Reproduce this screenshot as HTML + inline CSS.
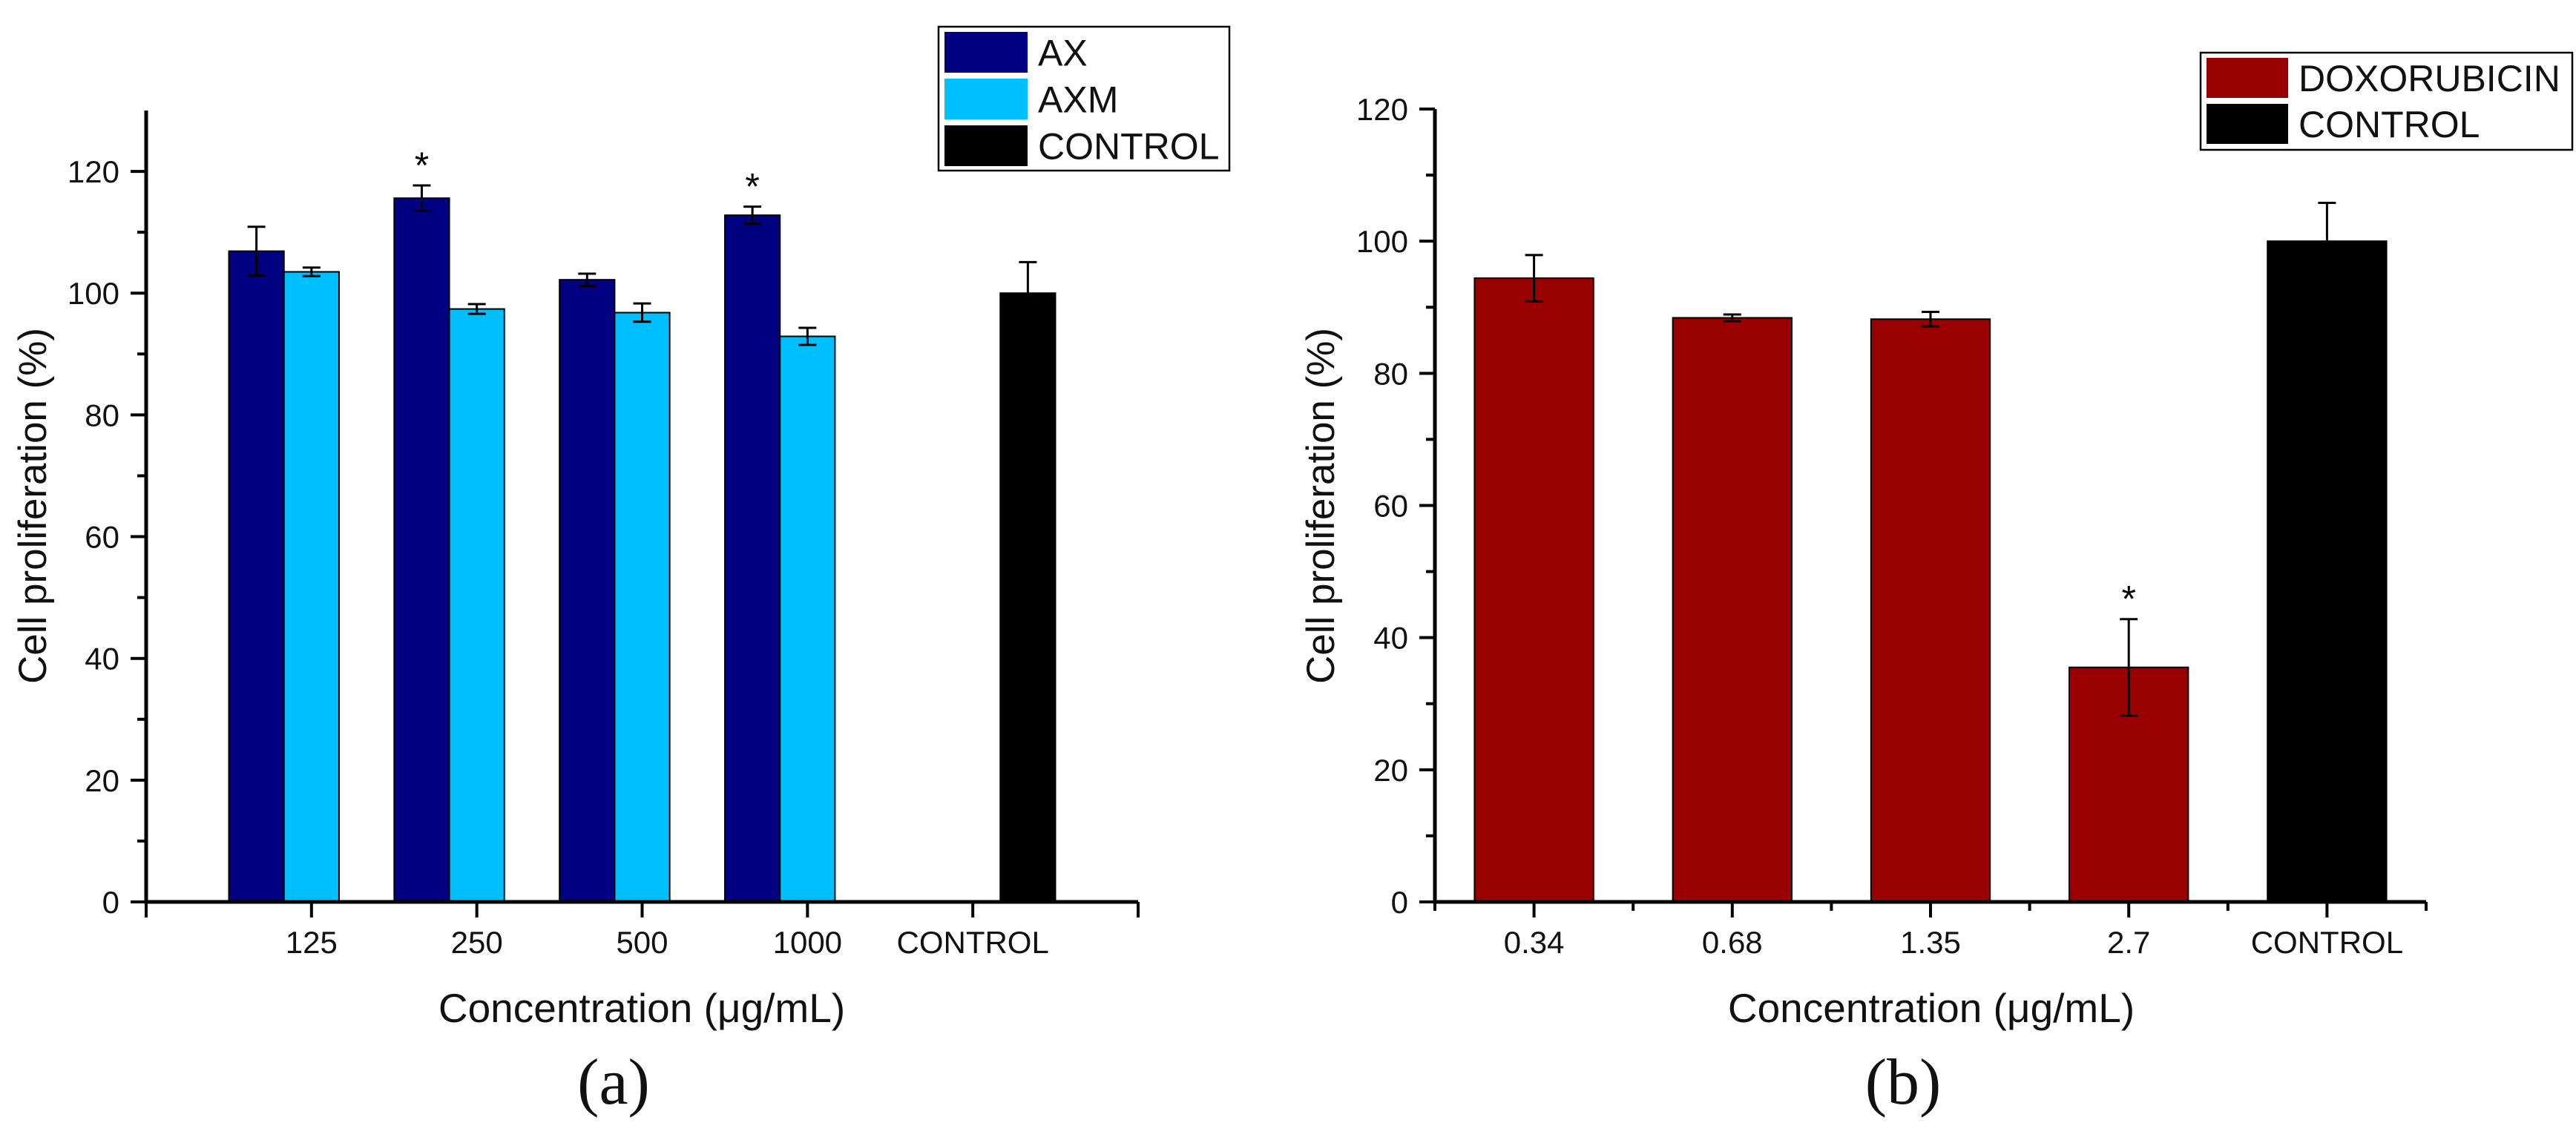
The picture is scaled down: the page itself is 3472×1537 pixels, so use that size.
<!DOCTYPE html>
<html><head><meta charset="utf-8"><style>
html,body{margin:0;padding:0;background:#fff;}
svg{display:block;font-family:"Liberation Sans",Arial,sans-serif;}
</style></head><body>
<svg id="fig" width="3472" height="1537" viewBox="0 0 3472 1537" xmlns="http://www.w3.org/2000/svg">
<g id="pa"></g>
<g id="pb"></g>
</svg>
<script>
// Panel (a) data
const catsA = ["125","250","500","1000","CONTROL"];
const axVals = [106.9,115.6,102.2,112.8,null];
const axErr = [4.0,2.1,1.0,1.4,null];
const axmVals = [103.5,97.4,96.8,92.9,null];
const axmErr = [0.7,0.8,1.5,1.4,null];
const ctrlA = [null,null,null,null,100];
const ctrlAErr = [null,null,null,null,5.1];
const starsA = [false,true,false,true,false];
const yTicksA = [0,20,40,60,80,100,120];
// Panel (b) data
const catsB = ["0.34","0.68","1.35","2.7","CONTROL"];
const doxVals = [94.4,88.4,88.2,35.5,null];
const doxErr = [3.5,0.5,1.1,7.3,null];
const ctrlB = [null,null,null,null,100];
const ctrlBErr = [null,null,null,null,5.8];
const starsB = [false,false,false,true,false];
const yTicksB = [0,20,40,60,80,100,120];

const NS="http://www.w3.org/2000/svg";
function mk(parent,tag,attrs,text){const e=document.createElementNS(NS,tag);for(const k in attrs)e.setAttribute(k,attrs[k]);if(text!==undefined)e.textContent=text;parent.appendChild(e);return e;}

function drawPanel(g,o){
  const x=v=>o.x0+(v-o.xmin)/(o.xmax-o.xmin)*(o.x1-o.x0);
  const y=v=>o.y0-(v-o.ymin)/(o.ymax-o.ymin)*(o.y0-o.y1);
  const bw=(x(1)-x(0))*o.bwUnits;
  // bars
  o.series.forEach(s=>{
    s.vals.forEach((v,i)=>{
      if(v===null)return;
      const cx=x(i+1)+s.off*bw;
      const r=mk(g,'rect',{x:cx-bw/2,y:y(v),width:bw,height:y(0)-y(v),fill:s.color,stroke:'#000','stroke-width':2});
      
      
      const e=s.err[i];
      if(e){
        const eg=mk(g,'path',{d:`M${cx},${y(v+e)}V${y(v-e)}M${cx-12},${y(v+e)}H${cx+12}M${cx-12},${y(v-e)}H${cx+12}`,stroke:'#000','stroke-width':3,fill:'none'});
        
        
      }
      if(s.stars&&s.stars[i]){
        const st=mk(g,'text',{x:cx,y:y(v+(e||0))-10,'font-size':50,'text-anchor':'middle'},'*');
        
        
      }
    });
  });
  // axes
  const ax=mk(g,'path',{d:`M${o.x0},${o.y1}V${o.y0}H${o.x1}`,stroke:'#000','stroke-width':5,fill:'none'});
  
  
  let d='';
  o.yticks.forEach(t=>{d+=`M${o.x0-21},${y(t)}H${o.x0}`;});
  for(let t=o.ymin+10;t<o.ymax;t+=20){d+=`M${o.x0-12},${y(t)}H${o.x0}`;}
  o.xMajor.forEach(t=>{d+=`M${x(t)},${o.y0}V${o.y0+21}`;});
  (o.xMinor||[]).forEach(t=>{d+=`M${x(t)},${o.y0}V${o.y0+12}`;});
  const tk=mk(g,'path',{d:d,stroke:'#000','stroke-width':4,fill:'none'});
  
  
  o.yticks.forEach(t=>{
    const l=mk(g,'text',{x:o.x0-36,y:y(t)+15,'font-size':42,'text-anchor':'end',fill:'#111'},String(t));
    
    
  });
  o.cats.forEach((c,i)=>{
    const l=mk(g,'text',{x:x(i+1),y:1285,'font-size':42,'text-anchor':'middle',fill:'#111'},c);
    
    
  });
  const yt=mk(g,'text',{transform:`translate(${o.ytx},682) rotate(-90)`,'font-size':53,'text-anchor':'middle',fill:'#111'},'Cell proliferation (%)');
  
  
  const xt=mk(g,'text',{x:o.xtc,y:1378,'font-size':55,'text-anchor':'middle',fill:'#111'},'Concentration (μg/mL)');
  
  
  const pl=mk(g,'text',{x:o.xtc-38,y:1488,'font-size':88,'text-anchor':'middle','font-family':'"Liberation Serif",serif',fill:'#111'},o.label);
  
  
  // legend
  const lg=mk(g,'g',{});
  
  
  mk(lg,'rect',{x:o.leg.x,y:o.leg.y,width:o.leg.w,height:o.leg.h,fill:'#fff',stroke:'#000','stroke-width':2.5});
  o.leg.items.forEach((it,k)=>{
    const ry=o.leg.y+7+k*o.leg.rh;
    const ent=mk(lg,'g',{});
    
    
    mk(ent,'rect',{x:o.leg.x+8,y:ry,width:o.leg.sw,height:o.leg.rh-8,fill:it[1]});
    mk(ent,'text',{x:o.leg.x+o.leg.sw+22,y:ry+(o.leg.rh-8)/2+18,'font-size':50,fill:'#111'},it[0]);
  });
}

drawPanel(document.getElementById('pa'),{
  x0:197,x1:1534,y0:1216,y1:149,xmin:0,xmax:6,ymin:0,ymax:130,bwUnits:0.333,
  cats:catsA,yticks:yTicksA,xMajor:[0,1,2,3,4,5,6],
  series:[
    {key:'ax',vals:axVals,err:axErr,color:'#000080',off:-1,stars:starsA},
    {key:'axm',vals:axmVals,err:axmErr,color:'#00BFFF',off:0},
    {key:'control',vals:ctrlA,err:ctrlAErr,color:'#000000',off:1}
  ],
  ytx:62,xtc:865,label:'(a)',
  leg:{x:1265,y:36,w:392,h:194,rh:63,sw:112,items:[['AX','#000080'],['AXM','#00BFFF'],['CONTROL','#000000']]}
});
drawPanel(document.getElementById('pb'),{
  x0:1934,x1:3270,y0:1216,y1:147,xmin:0.5,xmax:5.5,ymin:0,ymax:120,bwUnits:0.6,
  cats:catsB,yticks:yTicksB,xMajor:[1,2,3,4,5],xMinor:[0.5,1.5,2.5,3.5,4.5,5.5],
  series:[
    {key:'doxorubicin',vals:doxVals,err:doxErr,color:'#990000',off:0,stars:starsB},
    {key:'control',vals:ctrlB,err:ctrlBErr,color:'#000000',off:0}
  ],
  ytx:1798,xtc:2603,label:'(b)',
  leg:{x:2966,y:71,w:501,h:131,rh:62,sw:110,items:[['DOXORUBICIN','#990000'],['CONTROL','#000000']]}
});
</script>
</body></html>
